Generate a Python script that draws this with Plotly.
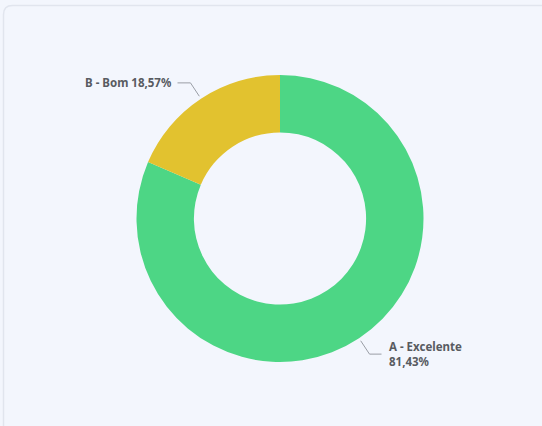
import math
import plotly.graph_objects as go

# ---- data ----
categories = ["A - Excelente", "B - Bom"]
values = [81.43, 18.57]
label_texts = ["A - Excelente<br>81,43%", "B - Bom 18,57%"]
colors = ["#4dd685", "#e2c22f"]

W, H = 542, 426
cx, cy, R = 280, 218.5, 143.5

def px(x):
    return x / W

def py(y):
    return 1 - y / H

fig = go.Figure()
fig.add_trace(go.Pie(
    labels=categories, values=values, hole=0.6, sort=False,
    direction="clockwise", rotation=0,
    marker=dict(colors=colors, line=dict(width=0)),
    textinfo="none", hoverinfo="label+percent", showlegend=False,
    domain=dict(x=[px(cx - R), px(cx + R)], y=[py(cy + R), py(cy - R)]),
))

# card border (rounded rect)
r = 9
shapes = [dict(
    type="path", xref="paper", yref="paper",
    path=(f"M {px(3.5)},{py(5.5 + r)} Q {px(3.5)},{py(5.5)} {px(3.5 + r)},{py(5.5)} "
          f"L {px(W + 20)},{py(5.5)} L {px(W + 20)},{py(H + 20)} L {px(3.5)},{py(H + 20)} Z"),
    line=dict(color="#e1e5ee", width=1.5), fillcolor="rgba(0,0,0,0)", layer="below",
)]

annotations = []
total = sum(values)
cum = 0
font = dict(family="Noto Sans", size=11.5, color="#585b61", weight=700)
for i, v in enumerate(values):
    mid = (cum + v / 2) / total * 2 * math.pi
    cum += v
    sx, sy = cx + (R + 3) * math.sin(mid), cy - (R + 3) * math.cos(mid)
    ex, ey = cx + (R + 19) * math.sin(mid), cy - (R + 19) * math.cos(mid)
    right = math.sin(mid) > 0
    hx = ex + (12 if right else -13)
    shapes.append(dict(
        type="path", xref="paper", yref="paper",
        path=f"M {px(sx)},{py(sy)} L {px(ex)},{py(ey)} L {px(hx)},{py(ey)}",
        line=dict(color="#9a9ea6", width=1),
    ))
    if right:
        annotations.append(dict(
            x=px(hx + 5), y=py(ey), xref="paper", yref="paper",
            xanchor="left", yanchor="middle", align="left", showarrow=False,
            text=label_texts[i], font=font,
        ))
    else:
        annotations.append(dict(
            x=px(hx - 3), y=py(ey), xref="paper", yref="paper",
            xanchor="right", yanchor="middle", align="right", showarrow=False,
            text=label_texts[i], font=font,
        ))

fig.update_layout(
    width=W, height=H, margin=dict(l=0, r=0, t=0, b=0),
    paper_bgcolor="#f3f6fd", plot_bgcolor="#f3f6fd",
    shapes=shapes, annotations=annotations,
)
fig.write_html(
    "out.html",
    config={"displayModeBar": False},
    post_script="document.body.style.margin='0';document.body.style.overflow='hidden';",
)
